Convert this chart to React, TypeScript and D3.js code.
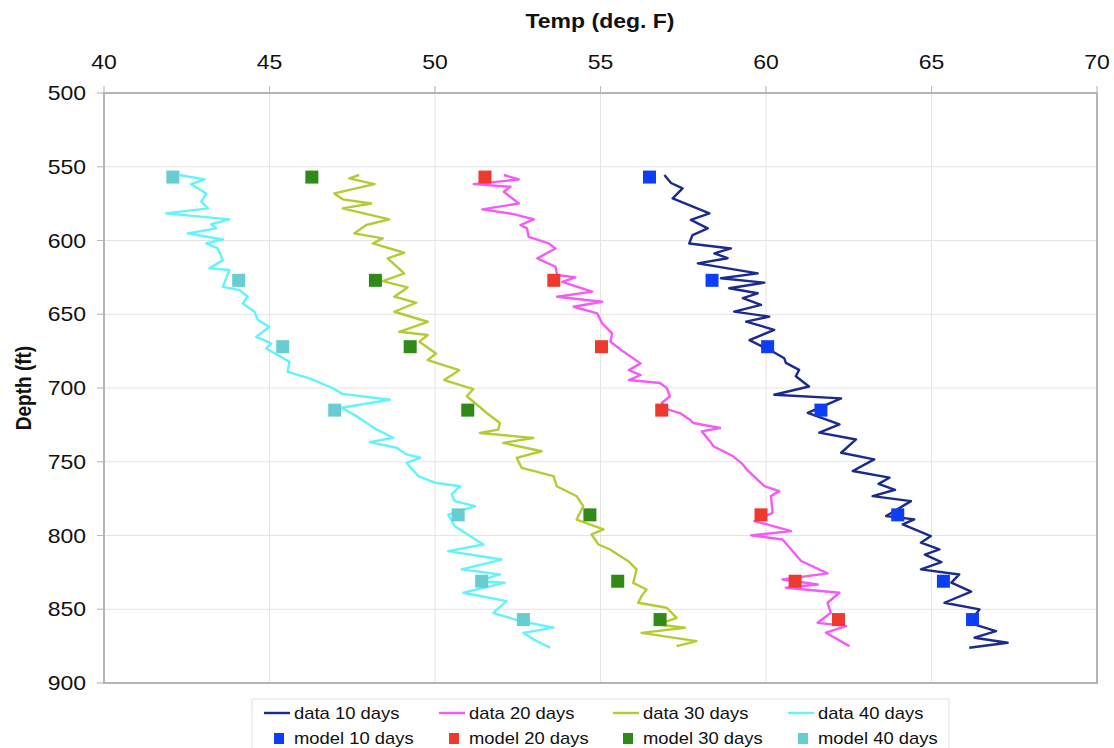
import React from "react";
import * as d3 from "d3";

const xTicks = [40, 45, 50, 55, 60, 65, 70];
const yTicks = [500, 550, 600, 650, 700, 750, 800, 850, 900];

const data10: [number, number][] = [[56.93,555.6],[57.13,561],[57.48,564.7],[57.18,571.5],[57.68,576],[58.29,581.6],[57.73,586],[58.24,591.8],[57.78,596.3],[57.68,602],[58.94,605.4],[58.44,608.7],[58.84,612],[57.94,615.5],[59.75,622.3],[58.64,625.6],[59.95,628.6],[58.89,632.4],[59.75,635.8],[59.3,639],[59.85,643.7],[59.04,648.2],[60.1,651.6],[59.4,655],[60.25,660.6],[59.5,667.5],[60.2,675.3],[60.55,679.8],[60.6,683],[61.0,687.7],[60.9,692],[61.3,699],[60.25,704.6],[62.27,707],[61.26,716.8],[62.22,724.7],[61.61,730.3],[62.72,734.9],[62.27,743.9],[63.27,748.4],[62.62,756.3],[63.73,760.8],[63.4,765],[63.9,769],[63.22,773.3],[64.38,776.7],[63.63,786.8],[64.48,789.1],[64.13,792.5],[64.98,800.4],[64.68,804.9],[65.24,809.4],[64.8,813],[65.3,818],[64.68,823],[65.84,826.4],[65.6,832],[66.2,838],[65.39,845.6],[66.45,850.1],[66.14,859.2],[66.95,864.8],[66.3,869.3],[67.3,872.7],[66.14,876.1]];

const data20: [number, number][] = [[52.08,555.6],[52.53,558.6],[51.17,561.8],[52.28,563.6],[52.08,567],[52.53,574.9],[51.43,578.9],[52.38,582.1],[52.99,585.7],[52.58,589.5],[52.78,591.8],[52.83,597.5],[53.44,602],[53.64,605.4],[53.09,612.1],[53.64,617.8],[53.69,623.4],[54.24,625],[53.84,628],[54.75,634.7],[53.69,638.1],[55.05,641.5],[54.19,644.9],[54.9,649.4],[55.05,656.2],[55.35,663],[55.3,668.6],[55.7,675.5],[56.21,683.3],[55.86,687.9],[56.21,691.2],[55.86,694.6],[56.8,696.6],[57.0,700],[57.1,705.6],[56.85,710.2],[57.05,714.7],[57.4,717],[57.7,721.5],[57.8,723.7],[58.61,727.1],[58.06,729.4],[58.31,736.2],[58.41,739.5],[59.01,746.3],[59.3,751.8],[59.42,755.4],[59.95,766.5],[60.4,769.9],[60.15,773.3],[60.2,784.6],[59.65,790.2],[60.76,797],[59.55,799.9],[60.5,802.7],[61.06,817.3],[61.86,825.7],[60.5,829.8],[61.56,833.2],[60.6,835.4],[62.22,838.8],[61.86,845.6],[61.96,852.4],[61.56,859.2],[62.42,861.4],[61.81,865.9],[62.52,875]];

const data30: [number, number][] = [[47.71,555.6],[47.41,557.9],[48.17,561.8],[46.96,568.1],[47.21,572.1],[48.07,574.9],[47.21,578.2],[48.62,585.7],[47.92,589.5],[47.56,595.2],[48.42,598.6],[48.12,602],[49.07,608.3],[48.57,612.1],[49.07,622.3],[48.42,627.5],[49.17,631.8],[48.77,638.1],[49.43,642.2],[48.77,648.3],[49.78,655.1],[48.92,661.9],[49.78,664.1],[49.53,668.6],[50.03,676.6],[49.78,681.1],[50.73,687.9],[50.28,694.6],[51.16,700.7],[50.96,705.6],[51.21,710.2],[51.56,716.9],[51.96,723.7],[51.91,728.2],[51.36,730.5],[52.97,733.9],[52.06,737.2],[53.22,742.9],[52.47,747.4],[52.62,754.2],[53.58,759.8],[53.68,766.6],[54.28,773.4],[54.48,780.1],[54.28,789.2],[55.09,795.9],[54.73,799.3],[54.94,806.1],[55.29,809.5],[55.84,817.4],[56.09,823],[55.99,832.1],[56.39,836.6],[56.24,841.1],[56.14,845.6],[57.0,849],[57.3,855.8],[56.75,860.3],[57.55,862.5],[56.24,866],[57.9,871.6],[57.3,875]];

const data40: [number, number][] = [[42.28,555.6],[43.04,558.6],[42.63,561.8],[43.09,568.1],[42.94,573.7],[43.14,578.2],[41.88,581.6],[43.79,585.7],[43.24,588.9],[43.39,591.8],[42.53,595.2],[43.59,599.3],[43.09,602],[43.44,605.4],[43.59,613.3],[43.19,618.9],[43.79,620],[43.59,631.4],[44.09,633.6],[44.34,638.1],[44.19,642.7],[44.55,648.3],[44.65,654],[45.0,658.5],[44.6,665.3],[45.05,669.8],[44.9,673.2],[45.6,682.2],[45.55,689],[46.21,693.5],[46.9,700],[47.2,704],[48.64,708],[47.17,713.4],[47.63,719.1],[48.23,728.1],[48.74,733.7],[48.03,736.7],[48.84,740.5],[49.14,745],[49.55,747.3],[49.14,750.7],[49.49,759.7],[50.0,764.2],[50.76,766.6],[50.5,772.2],[50.6,776.7],[51.21,780.1],[50.4,785.8],[50.6,793.7],[51.46,806.1],[50.4,810.6],[52.01,816.3],[50.81,823],[51.96,826.4],[51.31,830.9],[52.11,832],[50.86,838.8],[52.16,844.5],[51.76,852.4],[52.57,858],[53.58,862.5],[52.67,866],[52.97,870.4],[53.48,876.1]];

const modelDepths = [557, 627, 672, 715, 786, 831, 857];
const model10 = [56.48, 58.37, 60.05, 61.66, 63.98, 65.36, 66.24];
const model20 = [51.51, 53.59, 55.03, 56.85, 59.85, 60.88, 62.19];
const model30 = [46.28, 48.2, 49.25, 50.99, 54.68, 55.52, 56.8];
const model40 = [42.08, 44.07, 45.4, 46.97, 50.7, 51.41, 52.67];

const dataSeries = [
  { name: "data 10 days", values: data10, color: "#1b2a8e" },
  { name: "data 20 days", values: data20, color: "#f65af6" },
  { name: "data 30 days", values: data30, color: "#b5cb33" },
  { name: "data 40 days", values: data40, color: "#62f3fb" },
];
const modelSeries = [
  { name: "model 10 days", values: model10, color: "#0b3ef6" },
  { name: "model 20 days", values: model20, color: "#ec3a2f" },
  { name: "model 30 days", values: model30, color: "#2f8a18" },
  { name: "model 40 days", values: model40, color: "#67cdd0" },
];

const FONT = "'Liberation Sans', Arial, Helvetica, sans-serif";
const SX = 1.15;

function T({ x, y, anchor = "start", size, weight = "normal", children, rotate = false }: any) {
  const tf = rotate
    ? `translate(${x},${y}) rotate(-90) scale(1,${SX})`
    : `translate(${x},${y}) scale(${SX},1)`;
  return (
    <text transform={tf} textAnchor={anchor} fontSize={size} fontWeight={weight} fontFamily={FONT} fill="#111">
      {children}
    </text>
  );
}

export default function App() {
  const W = 1114, H = 748;
  const left = 104, right = 1097, top = 93, bottom = 683;
  const x = d3.scaleLinear().domain([40, 70]).range([left, right]);
  const y = d3.scaleLinear().domain([500, 900]).range([top, bottom]);
  const line = d3.line<[number, number]>().x(d => x(d[0])).y(d => y(d[1]));
  const sq = 13;

  const colX = [264, 439, 613, 788];
  return (
    <svg width={W} height={H} style={{ position: "absolute", left: 0, top: 0, background: "#fff" }}>
      <rect width={W} height={H} fill="#fff" />
      {/* grid */}
      {xTicks.map(t => (
        <line key={"gx" + t} x1={x(t)} x2={x(t)} y1={top - 7} y2={bottom} stroke="#e4e4e4" strokeWidth={1} />
      ))}
      {yTicks.map(t => (
        <line key={"gy" + t} x1={left - 7} x2={right} y1={y(t)} y2={y(t)} stroke="#e4e4e4" strokeWidth={1} />
      ))}
      {/* tick marks */}
      {xTicks.map(t => (
        <line key={"tx" + t} x1={x(t)} x2={x(t)} y1={top - 7} y2={top} stroke="#bbb" strokeWidth={1} />
      ))}
      {yTicks.map(t => (
        <line key={"ty" + t} x1={left - 7} x2={left} y1={y(t)} y2={y(t)} stroke="#bbb" strokeWidth={1} />
      ))}
      {/* frame */}
      <rect x={left} y={top} width={right - left} height={bottom - top} fill="none" stroke="#b4b4b4" strokeWidth={2} />
      {/* data lines */}
      {dataSeries.map(s => (
        <path key={s.name} d={line(s.values) || ""} fill="none" stroke={s.color} strokeWidth={2.4} strokeLinejoin="round" />
      ))}
      {/* model squares */}
      {modelSeries.map(s =>
        s.values.map((v, i) => (
          <rect key={s.name + i} x={x(v) - sq / 2} y={y(modelDepths[i]) - sq / 2} width={sq} height={sq} fill={s.color} />
        ))
      )}
      {/* tick labels */}
      {xTicks.map(t => (
        <T key={"lx" + t} x={x(t)} y={69} anchor="middle" size={20}>{t}</T>
      ))}
      {yTicks.map(t => (
        <T key={"ly" + t} x={86} y={y(t) + 7} anchor="end" size={20}>{t}</T>
      ))}
      {/* titles */}
      <T x={600} y={28} anchor="middle" size={20} weight="bold">Temp (deg. F)</T>
      <T x={31} y={388} anchor="middle" size={19} weight="bold" rotate>Depth (ft)</T>
      {/* legend */}
      <rect x={252} y={699} width={697} height={70} fill="#fff" stroke="#e2e2e2" strokeWidth={1} />
      {dataSeries.map((s, i) => (
        <g key={"lg" + s.name}>
          <line x1={colX[i]} x2={colX[i] + 26} y1={713} y2={713} stroke={s.color} strokeWidth={2.4} />
          <T x={colX[i] + 30} y={719} size={16}>{s.name}</T>
        </g>
      ))}
      {modelSeries.map((s, i) => (
        <g key={"lm" + s.name}>
          <rect x={colX[i] + 10} y={733} width={10} height={11} fill={s.color} />
          <T x={colX[i] + 30} y={744} size={16}>{s.name}</T>
        </g>
      ))}
    </svg>
  );
}
